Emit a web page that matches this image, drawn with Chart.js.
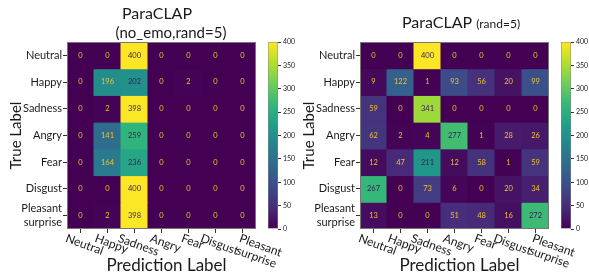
<!DOCTYPE html>
<html>
<head>
<meta charset="utf-8">
<script src="https://cdn.jsdelivr.net/npm/chart.js@4.4.1/dist/chart.umd.min.js"></script>
<style>
  body { margin: 0; background: #fff; }
  #wrap { position: relative; width: 589px; height: 275px; overflow: hidden; }
  canvas { position: absolute; top: 0; }
</style>
</head>
<body>
<div id="wrap">
  <canvas id="cmLeft" width="296" height="275" style="left:0px"></canvas>
  <canvas id="cbLeft" width="34" height="275" style="left:262px"></canvas>
  <canvas id="cmRight" width="296" height="275" style="left:293px"></canvas>
  <canvas id="cbRight" width="34" height="275" style="left:555px"></canvas>
</div>
<script>
// DATA
const classes = ['Neutral', 'Happy', 'Sadness', 'Angry', 'Fear', 'Disgust', 'Pleasant surprise'];
const tickLines = [['Neutral'], ['Happy'], ['Sadness'], ['Angry'], ['Fear'], ['Disgust'], ['Pleasant', 'surprise']];

// rows = true label, columns = predicted label
const noEmoCounts = [
    [0, 0, 400, 0, 0, 0, 0],
    [0, 196, 202, 0, 2, 0, 0],
    [0, 2, 398, 0, 0, 0, 0],
    [0, 141, 259, 0, 0, 0, 0],
    [0, 164, 236, 0, 0, 0, 0],
    [0, 0, 400, 0, 0, 0, 0],
    [0, 2, 398, 0, 0, 0, 0]
];
const randCounts = [
    [0, 0, 400, 0, 0, 0, 0],
    [9, 122, 1, 93, 56, 20, 99],
    [59, 0, 341, 0, 0, 0, 0],
    [62, 2, 4, 277, 1, 28, 26],
    [12, 47, 211, 12, 58, 1, 59],
    [267, 0, 73, 6, 0, 20, 34],
    [13, 0, 0, 51, 48, 16, 272]
];
const colorMin = 0;
const colorMax = 400;
const colorStep = 50;

// VIRIDIS
const viridis = ['#440154', '#482878', '#3e4989', '#31688e', '#26828e', '#1f9e89', '#35b779', '#6ece58', '#b5de2b', '#fde725'];
const hexRgb = h => [1, 3, 5].map(k => parseInt(h.slice(k, k + 2), 16));
function cmap(v) {
    let t = (v - colorMin) / (colorMax - colorMin);
    t = Math.max(0, Math.min(1, t));
    const p = t * (viridis.length - 1);
    const i = Math.min(Math.floor(p), viridis.length - 2);
    const f = p - i;
    const a = hexRgb(viridis[i]), b = hexRgb(viridis[i + 1]);
    const c = a.map((x, k) => Math.round(x + (b[k] - x) * f));
    return `rgb(${c[0]},${c[1]},${c[2]})`;
}

const FONT = 'Lato, "Open Sans", sans-serif';
const TXT = '#1a1a1a';

// MATRIX PANEL
function makeMatrix(id, counts, drawTitle) {
    const cellText = {
        id: 'cellText',
        afterDraw(chart) {
            const { ctx, chartArea: ca } = chart;
            const xs = chart.scales.x, ys = chart.scales.y;
            ctx.save();
            // values in cells
            ctx.font = '7.5px ' + FONT;
            ctx.textAlign = 'center';
            ctx.textBaseline = 'middle';
            counts.forEach((row, i) => row.forEach((v, j) => {
                ctx.fillStyle = v < (colorMax + colorMin) / 2 ? '#f2c12e' : '#3a1a5a';
                ctx.fillText(String(v), xs.getPixelForValue(j), ys.getPixelForValue(i + 0.5));
            }));
            // frame
            ctx.strokeStyle = '#777';
            ctx.lineWidth = 1;
            ctx.strokeRect(Math.round(ca.left) + 0.5, Math.round(ca.top) + 0.5,
                Math.round(ca.right - ca.left) - 1, Math.round(ca.bottom - ca.top) - 1);
            // rotated x tick labels
            const ang = 20 * Math.PI / 180;
            const lh = 12.5;
            ctx.font = '12px ' + FONT;
            ctx.fillStyle = TXT;
            tickLines.forEach((lines, j) => {
                const w = Math.max(...lines.map(l => ctx.measureText(l).width));
                const h = lines.length * lh;
                const bh = w * Math.sin(ang) + h * Math.cos(ang);
                const cx = xs.getPixelForValue(j) + 4 + (lines.length - 1) * 12;
                const cy = ca.bottom + 3 + bh / 2;
                ctx.save();
                ctx.translate(cx, cy);
                ctx.rotate(ang);
                lines.forEach((l, k) => ctx.fillText(l, 0, (k - (lines.length - 1) / 2) * lh));
                ctx.restore();
            });
            // axis titles
            ctx.font = '17px ' + FONT;
            ctx.fillText('Prediction Label', (ca.left + ca.right) / 2 + 5, 266);
            ctx.save();
            ctx.translate(16, (ca.top + ca.bottom) / 2);
            ctx.rotate(-Math.PI / 2);
            ctx.font = '15px ' + FONT;
            ctx.fillText('True Label', 0, 0);
            ctx.restore();
            drawTitle(ctx);
            ctx.restore();
        }
    };

    return new Chart(document.getElementById(id), {
        type: 'bar',
        data: {
            labels: classes,
            datasets: counts.map((row, i) => ({
                label: classes[i],
                data: row.map(() => [i, i + 1]),
                backgroundColor: row.map(v => cmap(v)),
                borderWidth: 0,
                inflateAmount: 0.5,
                barPercentage: 1,
                categoryPercentage: 1,
                grouped: false
            }))
        },
        options: {
            responsive: false,
            animation: false,
            layout: { padding: { top: 42, right: 40, bottom: 42, left: 0 } },
            plugins: { legend: { display: false }, tooltip: { enabled: false } },
            scales: {
                x: {
                    grid: { offset: false, drawOnChartArea: false, tickLength: 4, color: '#333' },
                    border: { display: false },
                    ticks: { display: false },
                    afterFit: s => { s.height = 4; }
                },
                y: {
                    min: 0,
                    max: classes.length,
                    reverse: true,
                    afterBuildTicks: s => { s.ticks = classes.map((c, i) => ({ value: i + 0.5 })); },
                    ticks: {
                        autoSkip: false,
                        callback: (v, i) => tickLines[i],
                        font: { family: FONT, size: 11, lineHeight: 1.3 },
                        color: TXT,
                        padding: 1
                    },
                    grid: { drawOnChartArea: false, tickLength: 4, color: '#333' },
                    border: { display: false },
                    afterFit: s => { s.width = 67; }
                }
            }
        },
        plugins: [cellText]
    });
}

// COLORBAR
function makeColorbar(id) {
    return new Chart(document.getElementById(id), {
        type: 'bar',
        data: {
            labels: [''],
            datasets: [{
                data: [[colorMin, colorMax]],
                backgroundColor: ctx => {
                    const ca = ctx.chart.chartArea;
                    if (!ca) return viridis[0];
                    const g = ctx.chart.ctx.createLinearGradient(0, ca.bottom, 0, ca.top);
                    viridis.forEach((c, i) => g.addColorStop(i / (viridis.length - 1), c));
                    return g;
                },
                borderColor: '#888',
                borderWidth: 0.8,
                borderSkipped: false,
                barPercentage: 1,
                categoryPercentage: 1
            }]
        },
        options: {
            responsive: false,
            animation: false,
            layout: { padding: { top: 42, right: 0, bottom: 46, left: 6 } },
            plugins: { legend: { display: false }, tooltip: { enabled: false } },
            scales: {
                x: { display: false },
                y: {
                    position: 'right',
                    min: colorMin,
                    max: colorMax,
                    ticks: { stepSize: colorStep, font: { family: FONT, size: 7 }, color: TXT, padding: 2 },
                    grid: { drawOnChartArea: false, tickLength: 3, color: '#333' },
                    border: { display: false },
                    afterFit: s => { s.width = 18; }
                }
            }
        }
    });
}

makeMatrix('cmLeft', noEmoCounts, ctx => {
    ctx.textAlign = 'center';
    ctx.textBaseline = 'middle';
    ctx.font = '16px ' + FONT;
    ctx.fillText('ParaCLAP', 157, 14);
    ctx.font = '15px ' + FONT;
    ctx.fillText('(no_emo,rand=5)', 171, 33);
});
makeColorbar('cbLeft');

makeMatrix('cmRight', randCounts, ctx => {
    ctx.textAlign = 'left';
    ctx.textBaseline = 'alphabetic';
    ctx.font = '16px ' + FONT;
    ctx.fillText('ParaCLAP', 109, 28);
    const w = ctx.measureText('ParaCLAP ').width;
    ctx.font = '12px ' + FONT;
    ctx.fillText('(rand=5)', 109 + w, 28);
});
makeColorbar('cbRight');
</script>
</body>
</html>
